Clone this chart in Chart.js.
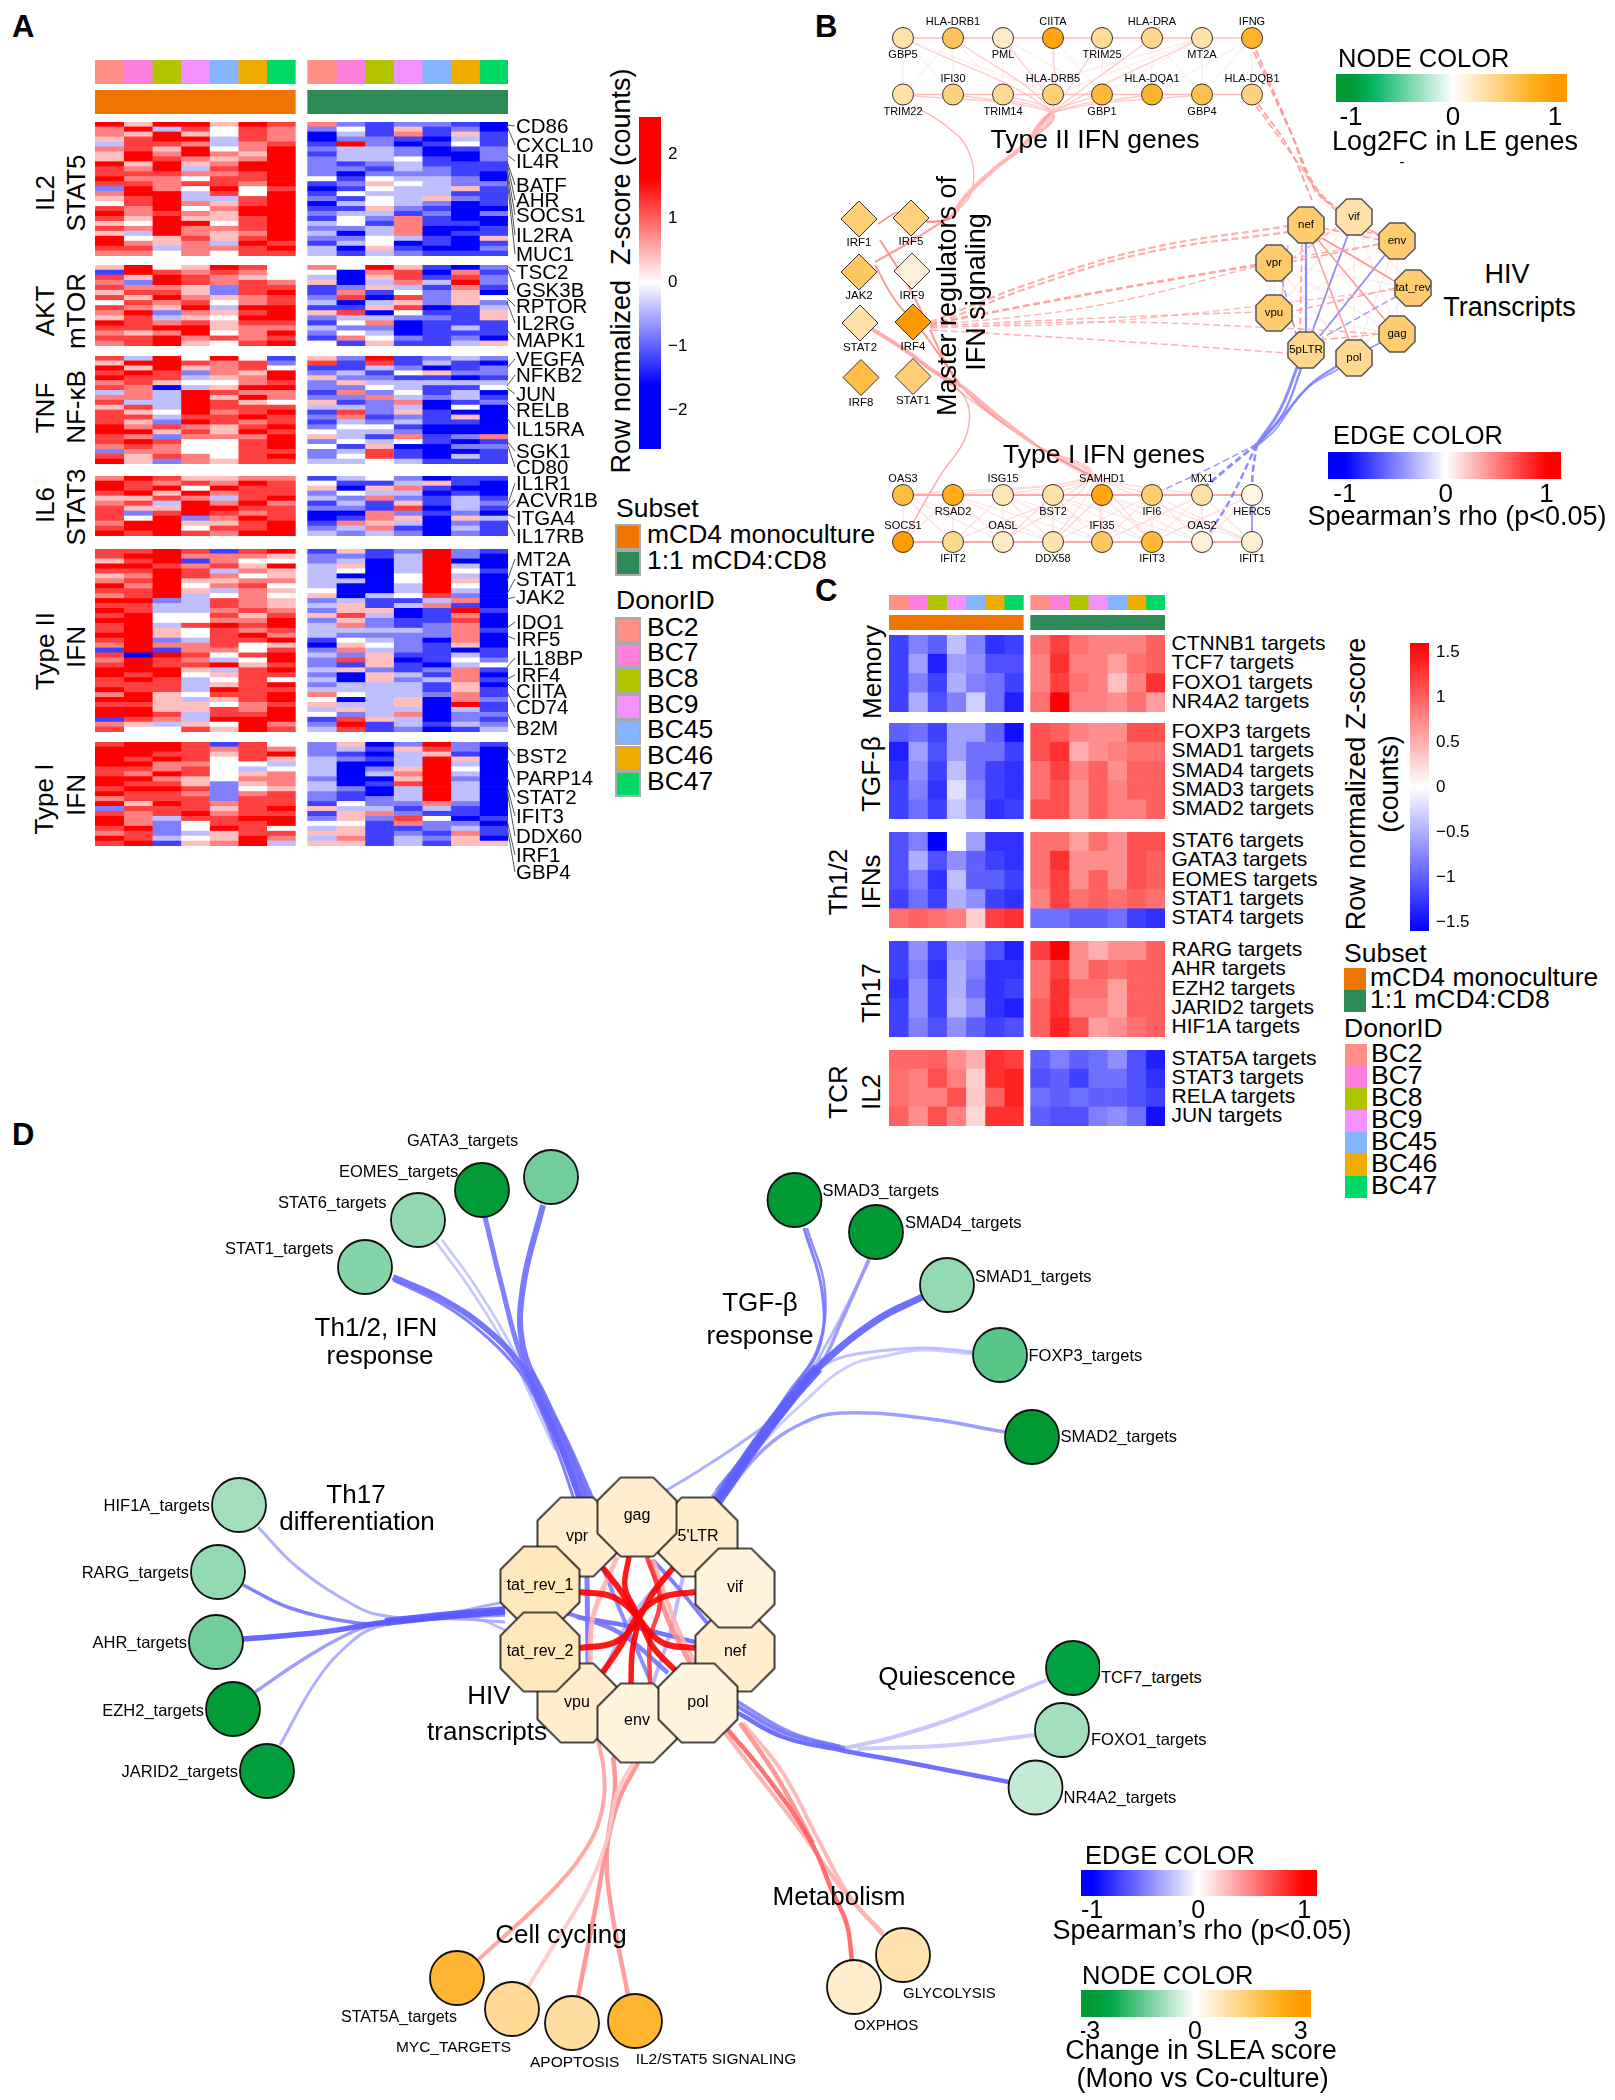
<!doctype html>
<html><head><meta charset="utf-8">
<style>
html,body{margin:0;background:#fff}
#page{position:relative;width:1615px;height:2100px;overflow:hidden;font-family:"Liberation Sans",Arial,sans-serif;color:#000}
canvas{position:absolute}
.t{position:absolute;white-space:pre;line-height:.82}
.s{position:absolute;box-sizing:border-box}
</style>
<script src="https://cdn.jsdelivr.net/npm/chart.js@4"></script>
</head><body><div id="page"></div>
<script>
/* ---------- DATA ---------- */
const donors=['BC2','BC7','BC8','BC9','BC45','BC46','BC47'];
const donorColors=['#FF8F87','#FF80DC','#B2C400','#F291FF','#85B5FF','#F0AD00','#00D966'];
const subsets=['mCD4 monoculture','1:1 mCD4:CD8'];
const subsetColors=['#EE7600','#2E8B57'];
// Panel A: each row = 7 mono + 7 co-culture estimates; digit d => z=(d-4)*0.4
const aIL2=['8588587 6212210','6837476 2415120','6585476 0316151','5788376 0221031','3776367 1820141','6758468 2332012','5868658 1332002','5876568 2334102','8585688 2123111','7683788 2213211','7776678 2022210','8664778 4143320','7767768 1254322','2864847 0143351','6883748 1433311','5783378 2143521','4786578 0343201','7684688 1152100','8676588 2331202','7585578 1426100','5488478 3416110','7686678 2236001','5386568 3036011','8457578 2243105','8656387 1340101','7736678 3051002','6646477 3132111'];
const aAKT=['5845874 6485102','1876764 4067061','7587654 3057172','6287676 5036382','7665277 1253161','5775278 1614250','7586567 2707254','4767467 3035252','7658388 1157013','6826578 5704115','5735488 2332215','8767577 1460111','7788566 3220131','6568468 2430111','7786767 1642120','6785478 4151135'];
const aTNF=['7384841 5281232','5887672 7171310','8585674 1132012','7872658 2314522','8773568 5221101','6754467 2533333','7603588 2243114','3638766 1624130','6638586 2263231','7338754 5126012','5738777 3323040','7548678 1725100','7737787 2612150','7528767 1323110','8676578 2441000','8857587 4332000','7626668 5316126','7874478 2434101','6764478 4150022','2664477 2371001','7576478 2471031','8526577 3343111'];
const aIL6=['6875566 1342011','8767687 4113510','8784877 5056100','7858677 2433010','5576378 3262131','6738686 1315132','7558877 2217031','7278767 0062120','7482687 0165053','6885578 1653021','7884778 2361031','8787688 3232021'];
const aIFN2=['7787178 1512821','7886665 2213820','5781644 2303800','8876758 3503830','7787365 3403841','5687645 3004830','6785566 3304850','8684674 3003840','7785365 4003830','6783464 5034720','8823765 2311360','7733765 3513610','8733676 2550181','7844757 5730160','8844668 2521170','7837878 3621260','7854767 3333261','8854786 3222260','7823778 1432060','6866745 0542150','1816647 2632101','7087478 3251131','6876348 2750142','7877857 2151034','8885378 3521261','8784577 2053160','7873474 3052361','7773578 2333150','8773877 3333151','6854778 6433261','8853578 4035062','7755467 5335081','8855768 3533031','8873778 4236022','1763888 1753021','6535486 2813132','7447587 3712013'];
const aIFN1=['7887174 2502821','8887676 2315720','8877578 2103510','8787475 3213850','8866443 3003830','7767434 3025840','7687456 3036830','8865466 2005820','8775256 3017830','7887245 3203830','8776267 2103830','6777277 2123830','8587677 1422620','2777578 5331310','7678677 1562110','8637788 2527401','8624778 4416220','7824874 3511231','6723577 5512161','8734586 3613250','7815683 5513155'];
const aGenes=['CD86','CXCL10','IL4R','BATF','AHR','SOCS1','IL2RA','MUC1','TSC2','GSK3B','RPTOR','IL2RG','MAPK1','VEGFA','NFKB2','JUN','RELB','IL15RA','SGK1','CD80','IL1R1','ACVR1B','ITGA4','IL17RB','MT2A','STAT1','JAK2','IDO1','IRF5','IL18BP','IRF4','CIITA','CD74','B2M','BST2','PARP14','STAT2','IFIT3','DDX60','IRF1','GBP4'];
const aGeneLabelY=[126,145,161,185,200,215,235,254,272,290,306,323,340,359,375,394,410,429,451,467,483,500,518,536,559,579,597,622,639,658,675,691,707,728,756,778,797,816,836,855,872];
const aGeneRowY=[125,126,155,161,162,168,171,178,266,268,298,302,330,368,386,388,402,418,441,443,507,509,514,520,581,594,599,628,636,667,679,683,692,713,746,758,777,786,790,820,826];
// Panel C z-scores
const cMemoryNames=['CTNNB1 targets','TCF7 targets','FOXO1 targets','NR4A2 targets'];
const cMemory=[[-1.2,-.8,-1,-.4,-.8,-1.3,-1.2,.9,1.2,.9,.8,.8,.8,1],[-1.2,-.6,-1.4,-.6,-.7,-1.1,-1.1,.8,1.3,.8,.8,.6,.9,1],[-1.2,-.8,-1.2,-.5,-.8,-.9,-1.2,.8,1.2,.9,.8,.4,.8,1.3],[-1.2,-.5,-1.1,-.8,-.3,-.9,-1.4,.9,1.6,.8,.8,.7,.9,.6]];
const cTGFNames=['FOXP3 targets','SMAD1 targets','SMAD4 targets','SMAD3 targets','SMAD2 targets'];
const cTGF=[[-1,-.9,-1.2,-.6,-.6,-1,-1.5,1.1,1,.8,.7,.7,1.1,1.1],[-1.4,-.6,-1.1,-.6,-.9,-.9,-1.2,1.1,1.3,.5,.7,.8,.9,.9],[-1.3,-.7,-1.2,-.4,-.9,-1.2,-1.3,.9,1.2,.8,1,.7,1,1],[-1.2,-.8,-1.3,-.2,-.8,-1.2,-1.3,.9,1.1,.7,1,.8,1,1],[-1.2,-.9,-1.2,-.35,-.7,-1.3,-1.2,1.1,1.1,.7,1,.8,.8,1]];
const cTh12Names=['STAT6 targets','GATA3 targets','EOMES targets','STAT1 targets','STAT4 targets'];
const cTh12=[[-1.1,-.8,-1.6,0,-.6,-1.3,-1.3,.9,.9,.6,.9,.7,1.1,1.1],[-1.1,-.5,-1.1,-.7,-1,-1.2,-1.3,.9,1.3,.7,.7,.7,1.1,1],[-1.1,-.8,-1.3,-.4,-1,-1,-1.2,.9,1.2,.7,1,.7,1.1,1],[-1.2,-.9,-1.2,-.5,-.7,-1.2,-1.3,.8,1.2,.9,1,.9,1,.9],[.9,1,.9,.8,.3,1.2,1.3,-.9,-.9,-1,-1,-.9,-1.2,-1.3]];
const cTh17Names=['RARG targets','AHR targets','EZH2 targets','JARID2 targets','HIF1A targets'];
const cTh17=[[-1.2,-.7,-1.2,-.6,-.7,-1.1,-1.4,1.2,1.6,.7,.5,.7,.7,1],[-1.2,-.8,-1.3,-.5,-.8,-1.3,-1.3,.9,1.2,.7,1,.9,1,1],[-1.3,-.7,-1.2,-.5,-.9,-1.3,-1.2,.9,1.3,.9,.9,.6,1,1],[-1.2,-.7,-1.2,-.45,-.7,-1.3,-1.4,1,1.3,.8,.8,.6,1,1],[-1.2,-.8,-1.1,-.7,-1,-1.2,-1.1,1,1.4,1.1,.6,.7,.9,1]];
const cTCRNames=['STAT5A targets','STAT3 targets','RELA targets','JUN targets'];
const cTCR=[[.95,.95,1,.7,.5,1.3,1.2,-1,-.8,-1,-.9,-.7,-1.1,-1.4],[.9,.8,1.1,.8,.3,1.3,1.4,-1.1,-1,-1.2,-.9,-.9,-1.1,-1.3],[.9,.8,.8,1.1,.35,1,1.4,-.9,-1,-.9,-1,-1,-1.1,-1.2],[1,.7,1.1,.8,.25,1.3,1.3,-1,-1.1,-1.1,-.8,-.7,-.9,-1.5]];
// Panel B nodes (layout position, Log2FC)
const bColX=[903,953,1003,1053,1102,1152,1202,1252];
const bRowY=[38,94.5,495,542];
const bRows=[['GBP5','HLA-DRB1','PML','CIITA','TRIM25','HLA-DRA','MT2A','IFNG'],['TRIM22','IFI30','TRIM14','HLA-DRB5','GBP1','HLA-DQA1','GBP4','HLA-DQB1'],['OAS3','RSAD2','ISG15','BST2','SAMHD1','IFI6','MX1','HERC5'],['SOCS1','IFIT2','OASL','DDX58','IFI35','IFIT3','OAS2','IFIT1']];
const bRowFC=[[.3,.58,.2,.9,.36,.4,.3,.75],[.3,.45,.38,.47,.7,.75,.62,.45],[.65,.82,.26,.31,.88,.5,.32,.1],[.98,.4,.22,.28,.55,.7,.14,.16]];
const bLabelAbove=[[22,55.3],[78.5,111.6],[479,512],[526,559]];
const bTFNames=['IRF1','IRF5','JAK2','IRF9','STAT2','IRF4','IRF8','STAT1'];
const bTFX=[859,911,859,912,860,913,861,913];
const bTFY=[219,218,272,271,323,322,377.5,376.5];
const bTFLabelY=[243,242,296,295.6,348,346.5,402.5,401];
const bTFFC=[.47,.45,.55,.14,.3,1,.65,.48];
const bHIVNames=['nef','vif','env','tat_rev','gag','pol','5pLTR','vpu','vpr'];
const bHIVX=[1306,1354,1397,1413,1397,1354,1306,1274,1274];
const bHIVY=[225,217,241,288,334,358,350,313,263];
const bHIVFC=[.5,.3,.5,.5,.5,.38,.4,.5,.52];
const bWebTop='GBP5,PML GBP5,TRIM22 GBP5,IFI30 GBP5,HLA-DRB5 PML,TRIM14 PML,CIITA PML,HLA-DRB5 PML,GBP1 CIITA,HLA-DRB5 CIITA,GBP1 CIITA,TRIM25 TRIM25,GBP1 TRIM25,HLA-DQA1 TRIM25,MT2A HLA-DRA,GBP4 HLA-DRA,HLA-DQA1 MT2A,GBP4 MT2A,GBP1 MT2A,HLA-DRB5 MT2A,TRIM14 IFNG,HLA-DQB1 IFNG,GBP4 IFNG,HLA-DQA1 HLA-DRB1,IFI30 HLA-DRB1,TRIM14 HLA-DRB1,TRIM22';
const bWebBottom='OAS3,SOCS1 OAS3,IFIT2 OAS3,OASL OAS3,DDX58 RSAD2,IFIT2 RSAD2,OASL RSAD2,DDX58 RSAD2,IFI35 ISG15,OASL ISG15,IFIT2 ISG15,DDX58 ISG15,IFI35 ISG15,IFIT3 BST2,DDX58 BST2,OASL BST2,IFI35 BST2,IFIT3 BST2,OAS2 SAMHD1,IFI35 SAMHD1,DDX58 SAMHD1,IFIT3 SAMHD1,OAS2 SAMHD1,IFIT1 IFI6,IFIT3 IFI6,IFI35 IFI6,OAS2 IFI6,IFIT1 IFI6,DDX58 MX1,OAS2 MX1,IFIT3 MX1,IFIT1 MX1,IFI35 HERC5,IFIT1 HERC5,OAS2 HERC5,IFIT3 SOCS1,RSAD2 OASL,BST2 DDX58,SAMHD1 IFI35,MX1 IFIT3,HERC5';
const bRingWeb='nef,env nef,gag vif,tat_rev vif,gag vif,pol vif,vpu vif,vpr env,gag env,pol env,vpu tat_rev,pol tat_rev,vpr gag,vpu gag,vpr pol,vpu pol,vpr 5pLTR,vif vpu,vpr';
// Panel B routed edges: rho, width, dashed, flat path
const bEdges=[
[.28,4.5,0,[1040,124,1024,145,992,171,966,196,951,218]],[.28,4,0,[962,386,1000,418,1034,444]],[.32,4,0,[872,329,905,350,935,372,961,386]],
[.5,1.6,0,[878,224,900,212,930,222,951,218]],[.42,2.2,0,[875,262,910,242,951,216]],[.4,2,0,[927,222,951,218,966,196,992,171,1023,145,1050,113]],
[.45,2,0,[925,318,905,280,880,240]],[.45,2,0,[875,265,895,300,925,335,960,386]],[.5,2.4,0,[872,329,905,350,935,372,961,386,1000,418,1034,444]],
[.45,2,0,[930,330,950,370,975,400,1034,444,1091,476]],[.35,1.5,0,[935,372,966,400,966,436,940,476,906,535]],[.35,1.3,0,[951,218,972,190,968,150,945,125,914,106]],
[.35,2.2,1,[930,322,1040,280,1150,248,1288,226]],[.35,2.2,1,[930,326,1040,284,1150,252,1288,232]],[.4,2.6,1,[930,324,1100,292,1256,265]],[.35,1.5,1,[930,326,1100,318,1256,312]],
[.33,1.5,1,[930,328,1100,322,1280,328,1380,334]],[.35,1.5,1,[930,330,1100,340,1288,353]],[.35,1.3,1,[930,326,1100,305,1285,260,1380,244]],[.3,1.3,1,[930,327,1100,322,1395,290]],
[.42,1.8,1,[1256,50,1290,130,1315,190,1340,210]],[.42,1.8,1,[1254,52,1292,135,1322,195,1380,236]],[.42,1.8,1,[1258,104,1290,150,1312,200]],[.4,1.6,1,[1256,106,1296,160,1330,205,1380,236]],
[.45,2,0,[1322,238,1396,282]],[.42,1.6,0,[1318,240,1385,320]],[.42,1.6,0,[1312,242,1350,342]],[.4,1.5,1,[1322,228,1380,240]],[.4,1.5,1,[1336,222,1380,236]],[.4,1.5,1,[1290,262,1380,244]],[.35,1.4,1,[1290,260,1336,228]],
[.4,1.4,1,[1395,288,1290,312]],[.4,1.5,1,[1320,340,1380,334]],[.4,1.6,1,[1302,244,1300,332]],[.35,1.4,1,[1288,245,1282,296]],
[-.5,2.2,0,[1306,243,1306,332]],[-.5,1.8,0,[1349,232,1312,332]],[-.5,1.8,0,[1385,255,1320,336]],[-.42,1.6,1,[1282,280,1296,334]],[-.42,1.6,1,[1397,296,1322,338]],[-.45,1.8,0,[1382,342,1370,348]],
[-.5,3,0,[1298,365,1280,410,1257,444]],[-.5,2.4,0,[1302,366,1284,412,1258,444]],[-.5,2.4,0,[1340,364,1310,385,1280,420,1258,444]],[-.45,1.8,0,[1340,368,1305,390,1275,430,1257,446]],
[-.45,1.4,1,[1257,444,1210,468,1163,490]],[-.5,3,1,[1257,444,1225,470,1206,486]],[-.5,2.4,1,[1257,444,1230,500,1210,532]],[-.5,2.6,1,[1257,444,1253,470,1252,486]],[-.5,1.6,0,[1252,504,1252,532]]];
// Panel D nodes
const dTargetNames=['GATA3_targets','EOMES_targets','STAT6_targets','STAT1_targets','HIF1A_targets','RARG_targets','AHR_targets','EZH2_targets','JARID2_targets','SMAD3_targets','SMAD4_targets','SMAD1_targets','FOXP3_targets','SMAD2_targets','TCF7_targets','FOXO1_targets','NR4A2_targets','GLYCOLYSIS','OXPHOS','STAT5A_targets','MYC_TARGETS','APOPTOSIS','IL2/STAT5 SIGNALING'];
const dTargetX=[551,482,418,365,239,218,216,233,267,794.5,876,947,1000,1032,1073,1062,1035.5,903,854,457,512,572,635];
const dTargetY=[1177,1190,1220,1267,1505,1572,1642,1709,1771,1200,1232,1285,1355,1437,1668,1730,1787.5,1955,1987,1978,2009,2023,2021];
const dTargetScore=[-1.33,-2.9,-1.04,-1.16,-.88,-1.02,-1.33,-2.9,-2.7,-3,-3,-1.02,-1.55,-3,-2.6,-.88,-.56,.85,.53,2.14,1.12,1,2.2];
const dHIVNames=['vpr',"5'LTR",'gag','tat_rev_1','vpu','tat_rev_2','nef','vif','env','pol'];
const dHIVX=[577,698,637,540,577,540,735,735,637,698];
const dHIVY=[1537,1537,1517,1586,1703,1652,1652,1588,1723,1703];
const dHIVScore=[.52,.52,.52,.7,.52,.7,.52,.37,.37,.37];
// Panel D routed edges: rho, width, flat path
const dEdges=[
[-.6,6,[393,1277,444,1300,490,1332,522,1367,540,1400,562,1450,582,1505]],
[-.55,3,[393,1280,444,1305,488,1338,520,1372,536,1400,557,1450,576,1505]],
[-.25,2.5,[436,1242,469,1287,510,1353,530,1395,555,1450]],
[-.25,2.5,[442,1240,476,1287,515,1353,532,1395]],
[-.55,5,[485,1217,502,1287,520,1353,542,1400,566,1450,588,1505]],
[-.58,6,[543,1205,523,1287,523,1347,546,1400,570,1450,594,1505]],
[-.6,11,[528,1372,541,1400,565,1450,585,1505]],
[-.62,7,[922,1297,877,1320,823,1363,790,1400,757,1443,723,1493,705,1515]],
[-.62,11,[818,1368,790,1400,757,1443,723,1493,708,1515]],
[-.55,3,[804,1228,822,1291,820,1345,796,1385,760,1443,726,1490,700,1515]],
[-.5,2.5,[807,1228,825,1291,817,1350,788,1393,752,1445,716,1490]],
[-.42,3.5,[869,1259,842,1320,820,1365,785,1400,750,1450,712,1497]],
[-.3,3,[869,1261,838,1323,815,1365]],
[-.55,3,[820,1365,790,1405,755,1450,720,1495,695,1515]],
[-.28,3,[973,1352,923,1348,863,1353,830,1362,810,1378]],
[-.22,3,[973,1354,923,1350,890,1355,847,1367,803,1403,763,1443,730,1490]],
[-.42,3.5,[1005,1432,923,1418,840,1413,803,1423,763,1450,723,1497]],
[-.35,3,[667,1490,700,1470,745,1440,780,1412,807,1373,822,1358]],
[-.65,5.5,[243,1639,323,1632,380,1623,440,1617,505,1612]],
[-.65,8,[385,1622,440,1616,505,1610]],
[-.55,3.5,[243,1585,290,1608,357,1623,383,1623,440,1616,505,1610]],
[-.35,3,[258,1527,297,1567,350,1603,380,1615,423,1617,490,1605,510,1600]],
[-.42,3.5,[255,1692,307,1657,357,1630,392,1622,445,1618,505,1615]],
[-.35,3,[280,1745,317,1680,350,1643,377,1627,440,1619,505,1622]],
[-.3,2.5,[440,1618,480,1620,505,1630]],
[-.62,4.5,[738,1713,783,1737,840,1750,900,1761,1009,1782]],
[-.55,4,[735,1705,785,1733,840,1747]],
[-.5,3.5,[735,1700,790,1732,845,1748]],
[-.24,4,[1047,1680,951,1719,890,1738,840,1749]],
[-.22,4,[1035,1735,951,1745,857,1749]],
[.62,4.5,[728,1730,767,1777,810,1840,833,1893,847,1925,852,1962]],
[.45,4.5,[740,1723,777,1777,813,1843]],
[.3,4,[743,1723,783,1773,820,1843,850,1897,883,1933]],
[.33,4,[725,1733,767,1787,800,1830,843,1890,883,1935]],
[.38,4,[598,1740,604,1773,602,1810,587,1847,550,1893,478,1960]],
[.22,4,[633,1763,617,1793,607,1840,587,1890,557,1940,528,1987]],
[.45,4.5,[638,1763,620,1797,608,1840,597,1900,578,1997]],
[.42,4.5,[613,1757,615,1787,607,1850,610,1900,628,1995]],
[.3,3.5,[613,1740,615,1790,610,1830]],
/* hub */
[1,6,[580,1592,613,1597,637,1617,653,1647,677,1672]],
[1,6,[580,1648,613,1643,633,1627,653,1593,673,1568]],
[1,6,[695,1592,663,1597,640,1613,620,1647,603,1672]],
[1,6,[695,1648,663,1643,640,1620,620,1590,603,1568]],
[1,5.5,[629,1557,625,1587,637,1617,632,1653,631,1683]],
[.8,4.5,[647,1557,660,1600,650,1640,650,1683]],
[.3,5,[617,1557,593,1617,590,1663]],
[.45,5,[650,1560,667,1617,690,1663]],
[.3,4.5,[653,1560,677,1627,695,1663]],
[-.55,5,[587,1577,588,1663]],
[-.55,4.5,[567,1613,620,1633,668,1673]],
[-.6,4.5,[577,1617,633,1627,695,1642]],
[-.55,4,[653,1560,680,1590,707,1623]],
[-.3,4,[683,1577,670,1633,653,1683]],
[-.3,4,[600,1680,630,1620,670,1570]],
[-.5,4,[600,1560,620,1610,650,1680]]];
// Colour ramps
const heatStopsA=[[-1.6,'#0000FF'],[0,'#FFFFFF'],[1.6,'#FF0000']];
const nodeStops=[[-1,'#009933'],[-.8,'#00B35F'],[0,'#FFFFFF'],[.8,'#FFAE1A'],[1,'#FF9900']];
const slaStops=[[-3,'#009933'],[-2.4,'#00A548'],[0,'#FFFFFF'],[2.4,'#FFAE1A'],[3,'#FF9900']];
const edgeStops=[[-1,'#0000FF'],[0,'#FFFFFF'],[1,'#FF0000']];

/* ---------- HELPERS ---------- */
const page=document.getElementById('page');
const FF='"Liberation Sans"';
Chart.defaults.font.family=FF;
function hex(c){return [1,3,5].map(i=>parseInt(c.substr(i,2),16));}
function ramp(stops,v){
  if(v<=stops[0][0])return hex(stops[0][1]);
  for(let i=1;i<stops.length;i++){ if(v<=stops[i][0]){const t=(v-stops[i-1][0])/(stops[i][0]-stops[i-1][0]);const a=hex(stops[i-1][1]),b=hex(stops[i][1]);return a.map((x,k)=>Math.round(x+(b[k]-x)*t));}}
  return hex(stops[stops.length-1][1]);
}
const rgb=(s,v,al)=>{const c=ramp(s,v);return al==null?`rgb(${c})`:`rgba(${c},${al})`;};
function T(s,x,y,o={}){
  const e=document.createElement('span');e.className='t';e.textContent=s;
  e.style.fontSize=(o.s||16)+'px';if(o.b)e.style.fontWeight='bold';
  e.style.left=x+'px';e.style.top=y+'px';
  const ax=o.a==='c'?'-50%':o.a==='r'?'-100%':'0';
  e.style.transform=`translate(${ax},-50%)`+(o.r?` rotate(${o.r}deg)`:'');
  page.appendChild(e);return e;
}
function swatch(x,y,w,h,c,b){const d=document.createElement('div');d.className='s';d.style.cssText+=`left:${x}px;top:${y}px;width:${w}px;height:${h}px;background:${c};`+(b?`border:${b};`:'');page.appendChild(d);}
function cv(x,y,w,h){const c=document.createElement('canvas');c.width=w;c.height=h;c.style.left=x+'px';c.style.top=y+'px';c.style.width=w+'px';c.style.height=h+'px';page.appendChild(c);return c;}
const base={animation:false,responsive:false,maintainAspectRatio:false,devicePixelRatio:1,layout:{padding:0,autoPadding:false},plugins:{legend:{display:false},tooltip:{enabled:false}},events:[]};
function heat(x0,y0,x1,y1,rows,colorOf,gap){
  const w=Math.round(x1-x0),h=Math.round(y1-y0);const n=rows[0].length;const half=n/2;
  const datasets=[];
  for(let c=0;c<n;c++){
    const st=c+(c>=half?gap:0);
    datasets.push({data:rows.map(()=>[st,st+1]),backgroundColor:rows.map(r=>colorOf(r[c],c)),borderWidth:0,barPercentage:1,categoryPercentage:1,grouped:false});
  }
  new Chart(cv(Math.round(x0),Math.round(y0),w,h),{type:'bar',data:{labels:rows.map((_,i)=>i),datasets},options:{...base,indexAxis:'y',scales:{x:{type:'linear',display:false,min:0,max:n+gap},y:{type:'category',display:false,offset:true}}}});
}
function cbar(x,y,barW,barH,vertical,min,max,step,stops,fs,extra,fmt,pad){
  const w=vertical?barW+extra:barW, h=vertical?barH:barH+extra;
  const valAxis=vertical?'y':'x';
  const val={type:'linear',min,max,position:vertical?'right':'bottom',grid:{display:false,drawTicks:false},border:{display:false},
    ticks:{stepSize:step,includeBounds:false,autoSkip:false,maxRotation:0,color:'#000',font:{family:FF,size:fs},padding:pad,callback:fmt},
    afterFit:a=>{if(vertical)a.width=extra;else a.height=extra;a.paddingTop=a.paddingBottom=a.paddingLeft=a.paddingRight=0;}};
  const cat={type:'category',display:false,offset:true};
  const ch=new Chart(cv(x,y,w,h),{type:'bar',data:{labels:['z'],datasets:[{data:[[min,max]],backgroundColor:'#888',borderWidth:0,barPercentage:1,categoryPercentage:1}]},
    options:{...base,indexAxis:vertical?'x':'y',scales:vertical?{x:cat,y:val}:{x:val,y:cat}}});
  const s=ch.scales[valAxis];const p0=s.getPixelForValue(min),p1=s.getPixelForValue(max);
  const g=vertical?ch.ctx.createLinearGradient(0,p0,0,p1):ch.ctx.createLinearGradient(p0,0,p1,0);
  g.addColorStop(0,rgb(stops,min));
  stops.forEach(st=>{const t=(st[0]-min)/(max-min);if(t>0&&t<1)g.addColorStop(t,st[1]);});
  g.addColorStop(1,rgb(stops,max));
  ch.data.datasets[0].backgroundColor=g;ch.update();
}
const octCache={};
function oct(R,fill,stroke,lw){
  const k=[R,fill,stroke,lw].join();if(octCache[k])return octCache[k];
  const c=document.createElement('canvas');const S=Math.ceil(2*R+2*lw+2);c.width=S;c.height=S;const g=c.getContext('2d');
  g.beginPath();for(let i=0;i<8;i++){const a=Math.PI/8+i*Math.PI/4;const px=S/2+R*Math.cos(a),py=S/2+R*Math.sin(a);i?g.lineTo(px,py):g.moveTo(px,py);}
  g.closePath();g.fillStyle=fill;g.fill();g.strokeStyle=stroke;g.lineWidth=lw;g.stroke();
  return octCache[k]=c;
}
function pathData(f){const a=[];for(let i=0;i<f.length;i+=2)a.push({x:f[i],y:f[i+1]});return a;}
function edgeDS(pts,rho,w,dash,alpha){return {data:pts,showLine:true,borderColor:rgb(edgeStops,rho,alpha==null?.9:alpha),borderWidth:w,borderDash:dash?[7,3.5]:[],pointRadius:0,tension:.4,fill:false,borderCapStyle:'butt',clip:false};}
function net(x,y,w,h,datasets){
  new Chart(cv(x,y,w,h),{type:'scatter',data:{datasets},options:{...base,scales:{x:{type:'linear',display:false,min:x,max:x+w},y:{type:'linear',display:false,min:y,max:y+h,reverse:true}}}});
}

/* ---------- PANEL LETTERS ---------- */
T('A',12,27,{s:31,b:1});T('B',815,27,{s:31,b:1});T('C',815,591,{s:31,b:1});T('D',12,1135,{s:31,b:1});

/* ---------- PANEL A ---------- */
const zA=r=>r.replace(' ','').split('').map(d=>(+d-4)*.4);
const heatColA=v=>rgb(heatStopsA,v);
const donorRow=[[0,1,2,3,4,5,6,0,1,2,3,4,5,6]];
const subsetRow=[[0,0,0,0,0,0,0,1,1,1,1,1,1,1]];
heat(95,60,508,84,donorRow,v=>donorColors[v],.43);
heat(95,90,508,114,subsetRow,v=>subsetColors[v],.43);
[[aIL2,122,256],[aAKT,265,346],[aTNF,356,464],[aIL6,476,536],[aIFN2,549,732],[aIFN1,742,846]].forEach(b=>heat(95,b[1],508,b[2],b[0].map(zA),heatColA,.43));
net(505,110,15,780,aGenes.map((g,i)=>({data:[{x:507,y:aGeneRowY[i]},{x:515,y:aGeneLabelY[i]}],showLine:true,borderColor:'#555',borderWidth:1,pointRadius:0})));
aGenes.forEach((g,i)=>T(g,516,aGeneLabelY[i],{s:20.5}));
[['IL2',46,193],['STAT5',76.5,193],['AKT',46,311],['mTOR',76.5,311],['TNF',46,408],['NF-κB',76.5,407],['IL6',46,505],['STAT3',76.5,507],['Type II',46,651],['IFN',76.5,647],['Type I',45,799],['IFN',76.5,795]].forEach(a=>T(a[0],a[1],a[2],{s:26,r:-90,a:'c'}));
cbar(639,117,22,332,true,-2.6,2.58,1,heatStopsA,17,40,v=>String(v).replace('-','−'),7);
T('Row normalized  Z-score (counts)',621,271,{s:27,r:-90,a:'c'});
T('Subset',616,509,{s:26.5});
subsets.forEach((s,i)=>{swatch(615,524+i*26,26,26,subsetColors[i],'2px solid #aaa');T(s,647,535+i*25.5,{s:26.5});});
T('DonorID',616,601,{s:26.5});
donors.forEach((d,i)=>{swatch(615,617+i*25.7,26,25.7,donorColors[i],'2px solid #aaa');T(d,647,627.5+i*25.7,{s:26.5});});

/* ---------- PANEL B ---------- */
const bPos={};
bRows.forEach((r,i)=>r.forEach((n,j)=>bPos[n]=[bColX[j],bRowY[i]]));
bHIVNames.forEach((n,i)=>bPos[n]=[bHIVX[i],bHIVY[i]]);
bTFNames.forEach((n,i)=>bPos[n]=[bTFX[i],bTFY[i]]);
const bDS=[];
bDS.push({data:bHIVNames.map((n,i)=>({x:bHIVX[i],y:bHIVY[i]})),pointStyle:bHIVFC.map(v=>oct(19.5,rgb(nodeStops,v),'#555',1.5)),pointRadius:19.5,clip:false});
bDS.push({data:bTFNames.map((n,i)=>({x:bTFX[i],y:bTFY[i]})),pointStyle:'rectRot',pointRadius:18,pointBackgroundColor:bTFFC.map(v=>rgb(nodeStops,v)),pointBorderColor:'#333',pointBorderWidth:1,clip:false});
const bGrid=[],bGridC=[];
bRows.forEach((r,i)=>r.forEach((n,j)=>{bGrid.push({x:bColX[j],y:bRowY[i]});bGridC.push(rgb(nodeStops,bRowFC[i][j]));}));
bDS.push({data:bGrid,pointStyle:'circle',pointRadius:10.5,pointBackgroundColor:bGridC,pointBorderColor:'#333',pointBorderWidth:1,clip:false});
bEdges.forEach(e=>bDS.push(edgeDS(pathData(e[3]),e[0],e[1],e[2])));
bRows.forEach((r,i)=>{for(let j=0;j<7;j++)bDS.push(edgeDS([{x:bColX[j],y:bRowY[i]},{x:bColX[j+1],y:bRowY[i]}],i<2?.28:.38,i<2?1.6:2.2,0));});
const web=(s,rho,w)=>s.split(' ').forEach(p=>{const [a,b]=p.split(',');bDS.push(edgeDS([{x:bPos[a][0],y:bPos[a][1]},{x:bPos[b][0],y:bPos[b][1]}],rho,w,0,.7));});
web(bWebTop,.14,1);web(bWebBottom,.16,1.3);web(bRingWeb,.12,1.2);
const bTop=bRows[0].concat(bRows[1]);
bTop.forEach((n,i)=>{const p=bPos[n];if(i%8===7)return;bDS.push(edgeDS(pathData([p[0],p[1],1052,113,1024,145,992,171,966,196,950,218]),.28,1.3,0,.75));});
bRows[2].concat(bRows[3]).forEach(n=>{const p=bPos[n];if(n==='HERC5'||n==='OAS2'||n==='SOCS1')return;bDS.push(edgeDS(pathData([935,372,971,400,1034,444,1091,476,p[0],p[1]]),.22,1.2,0,.7));});
net(830,0,610,580,bDS);
bRows.forEach((r,i)=>r.forEach((n,j)=>{const above=(i<2)?(j%2===1):(j%2===0);T(n,bColX[j],above?bLabelAbove[i][0]:bLabelAbove[i][1],{s:11,a:'c'});}));
bTFNames.forEach((n,i)=>T(n,bTFX[i],bTFLabelY[i],{s:11.5,a:'c'}));
bHIVNames.forEach((n,i)=>T(n,bHIVX[i],bHIVY[i],{s:11.5,a:'c'}));
T('Type II IFN genes',1095,140,{s:26.5,a:'c'});T('Type I IFN genes',1104,454.5,{s:26.5,a:'c'});
T('Master regulators of',947,296,{s:27,r:-90,a:'c'});T('IFN signaling',976,292,{s:27,r:-90,a:'c'});
T('HIV',1507,274,{s:27,a:'c'});T('Transcripts',1509.5,306.5,{s:27,a:'c'});
T('NODE COLOR',1338,57.5,{s:25.5});
const fmtPlain=v=>String(v);
cbar(1336,74,231,28,false,-1.147,1.118,1,nodeStops,26,30,fmtPlain,0);
T('Log2FC in LE genes',1455,141,{s:27,a:'c'});T('-',1402,162,{s:15,a:'c'});
T('EDGE COLOR',1333,434.5,{s:25.5});
cbar(1328,452,233,27,false,-1.168,1.144,1,edgeStops,26,26,fmtPlain,0);
T('Spearman’s rho (p<0.05)',1457,515.6,{s:27,a:'c'});

/* ---------- PANEL C ---------- */
const heatColC=v=>rgb(heatStopsA,v);
heat(889,595,1165,610,donorRow,v=>donorColors[v],.38);
heat(889,615,1165,630,subsetRow,v=>subsetColors[v],.38);
[[cMemory,cMemoryNames,635,712],[cTGF,cTGFNames,723,819],[cTh12,cTh12Names,832,928],[cTh17,cTh17Names,941,1037],[cTCR,cTCRNames,1050,1126]].forEach(b=>{
  heat(889,b[2],1165,b[3],b[0],heatColC,.38);
  const rh=(b[3]-b[2])/b[1].length;
  b[1].forEach((n,i)=>T(n,1171.5,b[2]+rh*(i+.5)-1.5,{s:21}));
});
[['Memory',873,672],['TGF-β',872,774],['Th1/2',839,882],['IFNs',872,882],['Th17',872,992.5],['TCR',839,1092],['IL2',872,1092]].forEach(a=>T(a[0],a[1],a[2],{s:26,r:-90,a:'c'}));
T('Row normalized Z-score',1356,784,{s:27,r:-90,a:'c'});T('(counts)',1389,784,{s:27,r:-90,a:'c'});
cbar(1410,643,19,288,true,-1.6,1.6,.5,heatStopsA,17,52,v=>String(v).replace('-','−'),7);
T('Subset',1344,953.7,{s:26.5});
subsets.forEach((s,i)=>{swatch(1344,968+i*22,22,22,subsetColors[i]);T(s,1370,978+i*22,{s:26.5});});
T('DonorID',1344,1029,{s:26.5});
donors.forEach((d,i)=>{swatch(1345,1043.5+i*22,22,22,donorColors[i]);T(d,1371,1053.5+i*22,{s:26.5});});

/* ---------- PANEL D ---------- */
const dDS=[];
dDS.push({data:dHIVNames.map((n,i)=>({x:dHIVX[i],y:dHIVY[i]})),pointStyle:dHIVScore.map(v=>oct(42.8,rgb(slaStops,v),'#111',1.6)),pointRadius:42.8,clip:false});
dDS.push({data:dTargetNames.map((n,i)=>({x:dTargetX[i],y:dTargetY[i]})),pointStyle:'circle',pointRadius:27,pointBackgroundColor:dTargetScore.map(v=>rgb(slaStops,v)),pointBorderColor:'#111',pointBorderWidth:1.8,clip:false});
dEdges.forEach(e=>dDS.push(edgeDS(pathData(e[2]),e[0],e[1],0)));
net(180,1130,920,950,dDS);
[['GATA3_targets',407,1141,'l'],['EOMES_targets',339,1172,'l'],['STAT6_targets',278,1203,'l'],['STAT1_targets',225,1249,'l'],
 ['HIF1A_targets',210,1506,'r'],['RARG_targets',189,1573,'r'],['AHR_targets',187,1643,'r'],['EZH2_targets',204,1711,'r'],['JARID2_targets',238,1772,'r'],
 ['SMAD3_targets',822.5,1191,'l'],['SMAD4_targets',905,1223,'l'],['SMAD1_targets',975,1276.6,'l'],['FOXP3_targets',1028.5,1355.7,'l'],['SMAD2_targets',1060.6,1437,'l'],
 ['TCF7_targets',1101,1678,'l'],['FOXO1_targets',1091,1740,'l'],['NR4A2_targets',1063.5,1797.7,'l']].forEach(a=>T(a[0],a[1],a[2],{s:16.5,a:a[3]}));
[['GLYCOLYSIS',903,1993],['OXPHOS',854,2025]].forEach(a=>T(a[0],a[1],a[2],{s:15}));
T('STAT5A_targets',457,2017,{s:16,a:'r'});T('MYC_TARGETS',511,2047,{s:15.5,a:'r'});T('APOPTOSIS',530,2061.5,{s:15.5});T('IL2/STAT5 SIGNALING',635.7,2059,{s:15.5});
dHIVNames.forEach((n,i)=>T(n,dHIVX[i],dHIVY[i]+(n==='gag'?-2:n==='env'?-3:-1),{s:16,a:'c'}));
[['Th1/2, IFN',376,1328],['response',380,1356],['TGF-β',760,1303],['response',760,1336],['Th17',356,1495],['differentiation',357,1522],['HIV',489,1696],['transcripts',487,1732],['Quiescence',947,1677],['Metabolism',839,1897],['Cell cycling',561,1935]].forEach(a=>T(a[0],a[1],a[2],{s:26,a:'c'}));
T('EDGE COLOR',1085,1854.5,{s:25.5});
cbar(1081,1870,236,26,false,-1.104,1.12,1,edgeStops,25,24,fmtPlain,0);
T('Spearman’s rho (p<0.05)',1202,1930,{s:27,a:'c'});
T('NODE COLOR',1082,1975,{s:25.5});
cbar(1081,1990,230,27,false,-3.23,3.29,3,slaStops,25,24,fmtPlain,0);
T('Change in SLEA score',1201,2050,{s:27,a:'c'});T('(Mono vs Co-culture)',1202.6,2078,{s:27,a:'c'});
</script></body></html>
